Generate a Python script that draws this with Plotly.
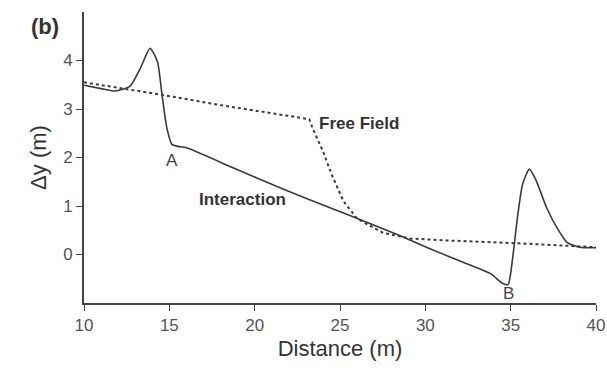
import plotly.graph_objects as go

# Interaction (solid)
inter_x = [10.0, 11.0, 11.8, 12.7, 13.3, 13.87, 14.3, 14.57, 14.86, 15.15, 15.5, 16.0, 18.73, 21.66, 24.6, 26.6, 28.5, 30.27, 32.5, 33.8, 34.55, 34.85, 35.1, 35.4, 35.7, 36.1, 36.5, 37.1, 37.7, 38.3, 39.05, 40.0]
inter_y = [3.49, 3.42, 3.37, 3.47, 3.84, 4.25, 3.98, 3.3, 2.6, 2.27, 2.23, 2.2, 1.79, 1.35, 0.94, 0.66, 0.39, 0.12, -0.2, -0.39, -0.6, -0.62, -0.12, 0.77, 1.45, 1.76, 1.52, 0.97, 0.56, 0.25, 0.15, 0.14]

# Free field (dotted)
ff_x = [10.0, 14.45, 18.0, 22.07, 23.2, 23.4, 24.0, 24.5, 25.2, 26.0, 27.5, 29.1, 31.26, 35.5, 38.2, 40.0]
ff_y = [3.55, 3.3, 3.08, 2.85, 2.79, 2.6, 2.13, 1.66, 1.1, 0.74, 0.45, 0.33, 0.29, 0.23, 0.18, 0.15]

x_ticks = [10, 15, 20, 25, 30, 35, 40]
y_ticks = [0, 1, 2, 3, 4]

FONT = "Liberation Sans, Arial"
line_col = "#3a3a3a"
fig = go.Figure()
fig.add_trace(go.Scatter(x=ff_x, y=ff_y, mode="lines",
                         line=dict(color=line_col, width=2, dash="dot"),
                         showlegend=False))
fig.add_trace(go.Scatter(x=inter_x, y=inter_y, mode="lines",
                         line=dict(color=line_col, width=1.6, shape="spline", smoothing=0.6),
                         showlegend=False))

lab_font = dict(family=FONT, size=17, color="#333333")
fig.add_annotation(x=23.65, y=2.7, text="<b>Free Field</b>", showarrow=False, xanchor="left", font=lab_font)
fig.add_annotation(x=19.3, y=1.13, text="<b>Interaction</b>", showarrow=False, font=lab_font)
fig.add_annotation(x=15.15, y=1.93, text="A", showarrow=False, font=dict(family=FONT, size=17, color="#444444"))
fig.add_annotation(x=34.85, y=-0.8, text="B", showarrow=False, font=dict(family=FONT, size=17, color="#444444"))
fig.add_annotation(x=-0.107, y=1.0, xref="paper", yref="paper", text="<b>(b)</b>", showarrow=False,
                   xanchor="left", yanchor="top",
                   font=dict(family=FONT, size=22, color="#333333"))

fig.update_xaxes(range=[10, 40], tickvals=x_ticks, showgrid=False, zeroline=False,
                 showline=True, linecolor="#444444", linewidth=2, automargin=False,
                 ticks="outside", ticklen=6, tickcolor="#444444",
                 tickfont=dict(family=FONT, size=17, color="#555555"),
                 title=dict(text="Distance (m)", standoff=6,
                            font=dict(family=FONT, size=22, color="#333333")))
fig.update_yaxes(range=[-1, 5], tickvals=y_ticks, showgrid=False, zeroline=False,
                 showline=True, linecolor="#444444", linewidth=2, automargin=False,
                 ticks="outside", ticklen=6, tickcolor="#444444",
                 tickfont=dict(family=FONT, size=17, color="#555555"),
                 title=dict(text="Δy (m)", standoff=10,
                            font=dict(family=FONT, size=22, color="#333333")))

fig.update_layout(width=607, height=374, margin=dict(l=84, r=11, t=12, b=71),
                  plot_bgcolor="white", paper_bgcolor="white")
fig.write_html("out.html")
